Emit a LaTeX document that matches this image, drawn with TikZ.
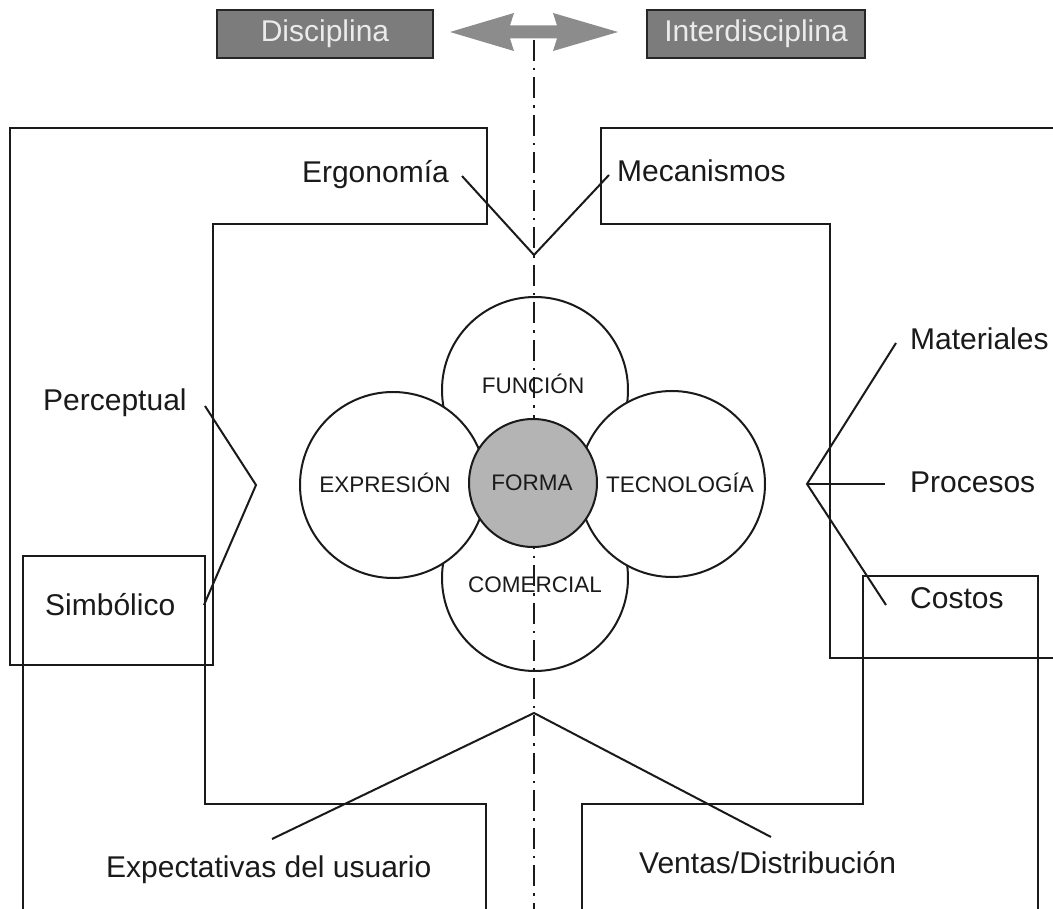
\documentclass[tikz,border=0pt]{standalone}
\usepackage{fontspec}
\setmainfont{Liberation Sans}
\definecolor{boxgray}{HTML}{7C7C7C}
\definecolor{arrowgray}{HTML}{8C8C8C}
\definecolor{formagray}{HTML}{B4B4B4}
\definecolor{ink}{HTML}{1A1A1A}
\begin{document}
\begin{tikzpicture}[x=1pt,y=-1pt,
  wall/.style={line width=2pt, draw=ink, line join=miter},
  conn/.style={line width=2pt, draw=ink},
  axisline/.style={line width=2.8pt, draw=ink, dash pattern=on 21pt off 7pt on 2.5pt off 7pt},
  lbl/.style={font=\fontsize{30}{36}\selectfont, inner sep=0pt, text=ink},
  clbl/.style={font=\fontsize{22.5}{27}\selectfont, inner sep=0pt, text=ink},
  topbox/.style={draw=black!85, line width=1.6pt, fill=boxgray, text=white!92!black,
    minimum height=48pt, inner sep=0pt, font=\fontsize{30}{36}\selectfont},
  petal/.style={circle, draw=ink, line width=2pt, fill=white, minimum size=186pt, inner sep=0pt},
  core/.style={circle, draw=ink, line width=2pt, fill=formagray, minimum size=128pt, inner sep=0pt}
]
\useasboundingbox (0,0) rectangle (1053,909);
\fill[white] (0,0) rectangle (1053,909);

% ---- frames ----
\draw[wall] (10,128) -- (487,128) -- (487,224) -- (213,224) -- (213,665) -- (10,665) -- cycle;
\draw[wall] (1053,128) -- (601,128) -- (601,224) -- (830,224) -- (830,658) -- (1053,658);
\draw[wall] (23,909) -- (23,556) -- (205,556) -- (205,804) -- (486,804) -- (486,909);
\draw[wall] (582,909) -- (582,804) -- (863,804) -- (863,576) -- (1038,576) -- (1038,909);

% ---- connector points ----
\coordinate (apexT) at (534,255);
\coordinate (ergEnd) at (462,176);
\coordinate (mecEnd) at (609,175);
\coordinate (apexL) at (256,485);
\coordinate (perEnd) at (205,406);
\coordinate (simEnd) at (204,605);
\coordinate (apexR) at (807,484);
\coordinate (matEnd) at (896,343);
\coordinate (proEnd) at (885,484);
\coordinate (cosEnd) at (886,605);
\coordinate (apexB) at (534,713);
\coordinate (expEnd) at (272,839);
\coordinate (venEnd) at (771,837);

\draw[conn] (ergEnd) -- (apexT) -- (mecEnd);
\draw[conn] (perEnd) -- (apexL) -- (simEnd);
\draw[conn] (matEnd) -- (apexR) -- (cosEnd);
\draw[conn] (apexR) -- (proEnd);
\draw[conn] (expEnd) -- (apexB) -- (venEnd);

% ---- petals ----
\node[petal] (funcion) at (535,390) {};
\node[petal] (comercial) at (535,578) {};
\node[petal] (expresion) at (393,485) {};
\node[petal] (tecnologia) at (672,484) {};

% ---- axis ----
\coordinate (axTop) at (534,40);
\coordinate (axBot) at (534,909);
\draw[axisline] (axTop) -- (axBot);

% ---- core ----
\node[core] (forma) at (533,483) {};

% ---- circle labels ----
\node[clbl, anchor=base] (tFun) at (533,394) {FUNCIÓN};
\node[clbl, anchor=base] (tExp) at (385,492) {EXPRESIÓN};
\node[clbl, anchor=base] (tFor) at (532,490) {FORMA};
\node[clbl, anchor=base] (tTec) at (680,493) {TECNOLOGÍA};
\node[clbl, anchor=base] (tCom) at (535,592) {COMERCIAL};

% ---- outer labels ----
\node[lbl, anchor=base east] (erg) at (449,183) {Ergonomía};
\node[lbl, anchor=base west] (mec) at (617,182) {Mecanismos};
\node[lbl, anchor=base west] (per) at (43,410) {Perceptual};
\node[lbl, anchor=base west] (sim) at (45,615) {Simbólico};
\node[lbl, anchor=base west] (mat) at (910,350) {Materiales};
\node[lbl, anchor=base west] (pro) at (910,493) {Procesos};
\node[lbl, anchor=base west] (cos) at (910,608) {Costos};
\node[lbl, anchor=base west] (exp) at (106,877) {Expectativas del usuario};
\node[lbl, anchor=base west] (ven) at (639,873) {Ventas/Distribución};

% ---- top boxes and double arrow ----
\node[topbox, minimum width=216pt] (disc) at (325,34) {Disciplina};
\node[topbox, minimum width=218pt] (inter) at (756,34) {Interdisciplina};
\fill[arrowgray] (450,32) -- (514,13) -- (510,25.5) -- (557,25.5) -- (553,13) -- (618,32)
  -- (553,51) -- (557,38.5) -- (510,38.5) -- (514,51) -- cycle;
\end{tikzpicture}
\end{document}
